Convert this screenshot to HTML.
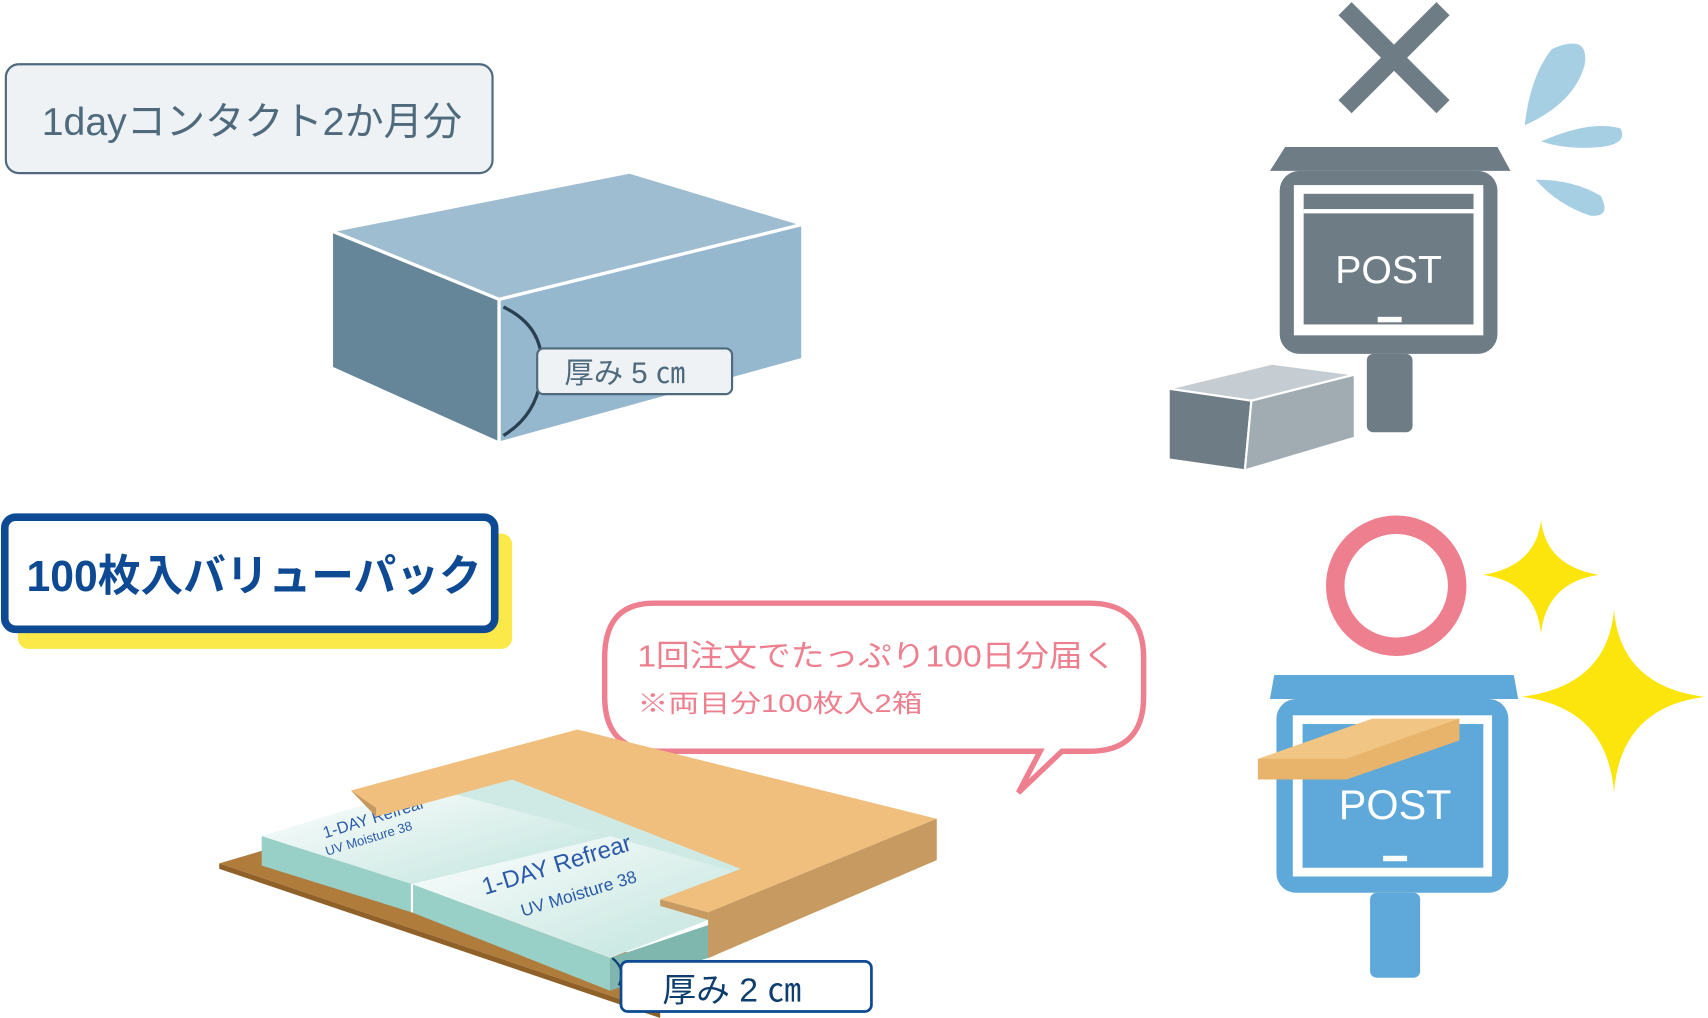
<!DOCTYPE html>
<html><head><meta charset="utf-8"><style>
html,body{margin:0;padding:0;background:#fff;}
svg{display:block}
text{font-family:"Liberation Sans","Noto Sans CJK JP",sans-serif}
</style></head><body>
<svg width="1708" height="1018" viewBox="0 0 1568 935" xmlns="http://www.w3.org/2000/svg">
<defs>
<linearGradient id="bx" x1="0" y1="0" x2="1" y2="1">
<stop offset="0" stop-color="#ffffff"/><stop offset="1" stop-color="#bfe3dc"/>
</linearGradient>
</defs>
<rect x="5" y="59" width="447" height="100" rx="12" fill="#eef2f5" stroke="#4e6a7c" stroke-width="2"/>
<text x="38" y="124" font-size="36" fill="#4e6a7c">1dayコンタクト2か月分</text>
<polygon points="304,212 578,158 737,206 458,275" fill="#9fbdd0" stroke="#fff" stroke-width="3"/>
<polygon points="304,212 458,275 458,407 304,338" fill="#658599" stroke="#fff" stroke-width="3"/>
<polygon points="458,275 737,206 737,330 458,407" fill="#95b8cf" stroke="#fff" stroke-width="3"/>
<path d="M462,282 Q500,300 497,340 Q495,380 462,400" fill="none" stroke="#2a3f52" stroke-width="3"/>
<rect x="493" y="320" width="179" height="42" rx="6" fill="#eef2f5" stroke="#4e6a7c" stroke-width="2"/>
<text x="518" y="352" font-size="27" fill="#4e6a7c">厚み 5 ㎝</text>
<path d="M1235,8 L1325,98 M1325,8 L1235,98" stroke="#6e7c85" stroke-width="17"/>
<path d="M1425,45 Q1460,30 1455,60 Q1445,95 1400,115 Q1405,70 1425,45Z" fill="#a7cfe4"/>
<path d="M1415,130 Q1460,110 1488,118 Q1495,132 1470,135 Q1440,138 1415,130Z" fill="#a7cfe4"/>
<path d="M1410,165 Q1445,165 1470,180 Q1480,200 1460,198 Q1430,188 1410,165Z" fill="#a7cfe4"/>
<polygon points="1180,135 1375,135 1387,157 1166,157" fill="#6e7c85"/>
<rect x="1175" y="157" width="200" height="168" rx="18" fill="#6e7c85"/>
<rect x="1188" y="170" width="174" height="138" fill="#fff"/>
<rect x="1197" y="178" width="156" height="120" fill="#6e7c85"/>
<rect x="1197" y="192" width="156" height="4" fill="#fff"/>
<text x="1275" y="260" font-size="36" fill="#fff" text-anchor="middle" font-family="Liberation Serif,serif">POST</text>
<rect x="1265" y="291" width="22" height="5" fill="#fff"/>
<rect x="1255" y="325" width="42" height="72" rx="6" fill="#6e7c85"/>
<polygon points="1073,357 1168,334 1244,344 1149,368" fill="#c6cdd2" stroke="#fff" stroke-width="2"/>
<polygon points="1073,357 1149,368 1143,432 1073,422" fill="#6e7c85" stroke="#fff" stroke-width="2"/>
<polygon points="1149,368 1244,344 1244,402 1143,432" fill="#a1abb2" stroke="#fff" stroke-width="2"/>
<circle cx="1282" cy="538" r="56" fill="none" stroke="#ee7f8f" stroke-width="17"/>
<path d="M1415,478 Q1420,520 1468,528 Q1420,535 1415,582 Q1410,535 1362,528 Q1410,520 1415,478Z" fill="#fbe50d"/>
<path d="M1482,560 Q1488,630 1565,640 Q1488,650 1482,728 Q1476,650 1397,640 Q1476,630 1482,560Z" fill="#fbe50d"/>
<polygon points="1170,620 1390,620 1394,642 1166,642" fill="#5ea9d9"/>
<rect x="1172" y="642" width="213" height="178" rx="18" fill="#5ea9d9"/>
<rect x="1187" y="657" width="183" height="148" fill="#fff"/>
<rect x="1196" y="665" width="166" height="132" fill="#5ea9d9"/>
<text x="1281" y="752" font-size="38" fill="#fff" text-anchor="middle" font-family="Liberation Serif,serif">POST</text>
<rect x="1270" y="786" width="22" height="5" fill="#fff"/>
<rect x="1258" y="820" width="46" height="78" rx="6" fill="#5ea9d9"/>
<polygon points="1155,697 1260,660 1340,660 1340,680 1236,716 1155,716" fill="#f1c583"/>
<polygon points="1155,697 1236,697 1340,660 1340,680 1236,716 1155,716" fill="#e8b36a"/>
<rect x="16" y="490" width="454" height="106" rx="10" fill="#fbe94a"/>
<rect x="4" y="475" width="450" height="103" rx="10" fill="#fff" stroke="#0d4a93" stroke-width="7"/>
<text x="24" y="543" font-size="40" font-weight="bold" fill="#0d4a93" textLength="418" lengthAdjust="spacingAndGlyphs">100枚入バリューパック</text>
<path d="M600,554 L1000,554 Q1050,554 1050,604 L1050,640 Q1050,690 1000,690 L975,690 L935,728 L955,690 L605,690 Q555,690 555,640 L555,604 Q555,554 600,554Z" fill="#fff" stroke="#ee7f8f" stroke-width="5"/>
<text x="585" y="612" font-size="28" fill="#ee7f8f" textLength="440" lengthAdjust="spacingAndGlyphs">1回注文でたっぷり100日分届く</text>
<text x="585" y="654" font-size="23" fill="#ee7f8f" textLength="262" lengthAdjust="spacingAndGlyphs">※両目分100枚入2箱</text>
<polygon points="201,793 252,778 660,900 606,930" fill="#b07c3c"/>
<polygon points="201,793 606,930 606,935 201,798" fill="#8f6028"/>
<polygon points="390,722 470,712 690,798 650,845 560,880" fill="#cfeae5"/>
<polygon points="240,768 390,722 560,768 378,812" fill="url(#bx)"/>
<polygon points="378,812 560,768 672,800 560,880" fill="url(#bx)"/>
<polygon points="240,768 378,812 378,838 240,795" fill="#98cfc6"/>
<polygon points="378,812 560,880 560,910 378,838" fill="#98cfc6"/>
<polygon points="560,880 655,848 655,878 560,910" fill="#7fb7ae"/>
<line x1="378" y1="812" x2="378" y2="838" stroke="#fff" stroke-width="2"/>
<text x="298" y="770" font-size="15" fill="#2a5aa8" transform="rotate(-17 298 770)">1-DAY Refrear</text>
<text x="300" y="786" font-size="12" fill="#2a5aa8" transform="rotate(-17 300 786)">UV Moisture 38</text>
<text x="445" y="822" font-size="22" fill="#2a5aa8" transform="rotate(-17 445 822)">1-DAY Refrear</text>
<text x="480" y="842" font-size="16" fill="#2a5aa8" transform="rotate(-17 480 842)">UV Moisture 38</text>
<polygon points="322,726 530,670 860,752 650,838 606,826 680,798 470,716 345,750" fill="#f0bf7e"/>
<polygon points="322,726 345,750 345,742" fill="#c59a62"/>
<polygon points="650,838 860,752 860,790 650,880" fill="#c69a60"/>
<polygon points="606,826 650,838 650,845 606,832" fill="#c69a60"/>
<path d="M562,880 Q575,890 568,905" fill="none" stroke="#0d3e6e" stroke-width="2"/>
<rect x="570" y="883" width="230" height="46" rx="6" fill="#fff" stroke="#0d4a93" stroke-width="2.5"/>
<text x="608" y="920" font-size="31" fill="#0d3e6e">厚み 2 ㎝</text>
</svg>
</body></html>
